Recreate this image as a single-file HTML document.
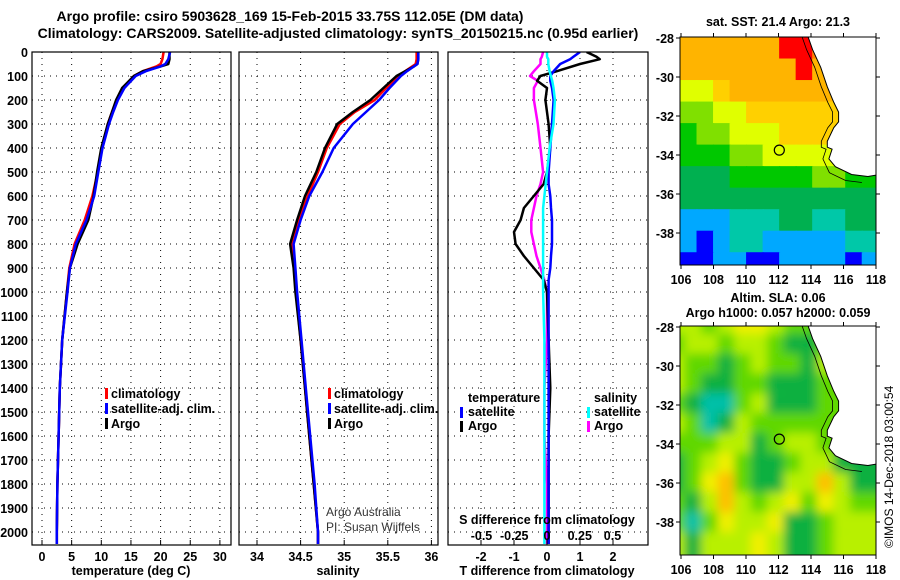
<!DOCTYPE html>
<html><head><meta charset="utf-8"><style>
html,body{margin:0;padding:0;background:#fff;width:900px;height:580px;overflow:hidden}
svg{display:block;font-family:"Liberation Sans",sans-serif}
.t{font-weight:bold;font-size:14px}
.k{font-weight:bold;font-size:12.5px}
</style></head><body>
<svg id="s" width="900" height="580" viewBox="0 0 900 580" xmlns="http://www.w3.org/2000/svg">
<defs>
<clipPath id="c1"><rect x="32" y="52" width="199" height="493"/></clipPath>
<clipPath id="c2"><rect x="239" y="52" width="199" height="493"/></clipPath>
<clipPath id="c3"><rect x="448" y="52" width="200" height="493"/></clipPath>
<clipPath id="m1"><rect x="680" y="37" width="196" height="228"/></clipPath>
<clipPath id="m2"><rect x="680" y="326" width="196" height="229"/></clipPath>
<filter id="bl" x="-10%" y="-10%" width="120%" height="120%"><feGaussianBlur stdDeviation="5"/></filter>
</defs>
<text class="t" x="290" y="21" text-anchor="middle">Argo profile: csiro 5903628_169 15-Feb-2015 33.75S 112.05E (DM data)</text>
<text class="t" x="338" y="38" text-anchor="middle">Climatology: CARS2009. Satellite-adjusted climatology: synTS_20150215.nc (0.95d earlier)</text>
<g id="grid"></g>
<g id="marks"></g>
<g id="maps"></g>
<g id="axes"></g>
<g class="k">
<rect x="105" y="388" width="3" height="11" fill="#f00"/><text x="111" y="398">climatology</text>
<rect x="105" y="403" width="3" height="11" fill="#00f"/><text x="111" y="413">satellite-adj. clim.</text>
<rect x="105" y="418" width="3" height="11" fill="#000"/><text x="111" y="428">Argo</text>
</g>
<g class="k">
<rect x="328" y="388" width="3" height="11" fill="#f00"/><text x="334" y="398">climatology</text>
<rect x="328" y="403" width="3" height="11" fill="#00f"/><text x="334" y="413">satellite-adj. clim.</text>
<rect x="328" y="418" width="3" height="11" fill="#000"/><text x="334" y="428">Argo</text>
</g>
<g class="k">
<text x="468" y="402">temperature</text>
<rect x="460" y="407" width="3" height="11" fill="#00f"/><text x="468" y="416">satellite</text>
<rect x="460" y="421" width="3" height="11" fill="#000"/><text x="468" y="430">Argo</text>
<text x="594" y="402">salinity</text>
<rect x="587" y="407" width="3" height="11" fill="#0ff"/><text x="594" y="416">satellite</text>
<rect x="587" y="421" width="3" height="11" fill="#f0f"/><text x="594" y="430">Argo</text>
</g>
<text x="326" y="516" font-size="12" fill="#333">Argo Australia</text>
<text x="326" y="531" font-size="12" fill="#333">PI: Susan Wijffels</text>
<text class="k" x="547" y="524" text-anchor="middle">S difference from climatology</text>
<text class="k" x="131" y="575" text-anchor="middle">temperature (deg C)</text>
<text class="k" x="338" y="575" text-anchor="middle">salinity</text>
<text class="k" x="547" y="575" text-anchor="middle">T difference from climatology</text>
<text class="k" x="778" y="26" text-anchor="middle">sat. SST: 21.4 Argo: 21.3</text>
<text class="k" x="778" y="302" text-anchor="middle">Altim. SLA: 0.06</text>
<text class="k" x="778" y="317" text-anchor="middle">Argo h1000: 0.057 h2000: 0.059</text>
<text font-size="12" transform="translate(893,548) rotate(-90)">©IMOS 14-Dec-2018 03:00:54</text>
</svg>
<script>
const depths=[0,30,50,60,80,100,150,200,250,300,400,500,600,700,800,900,1000,1200,1400,1600,1800,2000,2050];
const tempArgo=[21.5,21.5,21.3,20,17,15.5,13.5,12.5,11.8,11.1,10,9.3,8.7,7.8,6,4.7,4.2,3.4,3.0,2.8,2.6,2.5,2.5];
const tempClim=[20.5,20.3,20,19.3,17,15.5,13.7,12.6,11.8,11.1,10.1,9.4,8.5,7.2,5.5,4.6,4.2,3.4,3.0,2.8,2.6,2.5,2.5];
const tempSat=[21.6,21.3,20.8,20,17.5,15.8,13.9,12.8,12,11.3,10.2,9.5,8.8,7.5,5.7,4.7,4.3,3.4,3.0,2.8,2.6,2.5,2.5];
const salArgo=[35.85,35.85,35.84,35.8,35.7,35.6,35.45,35.3,35.1,34.92,34.78,34.68,34.55,34.46,34.38,34.42,34.44,34.5,34.55,34.6,34.65,34.7,34.7];
const salClim=[35.83,35.83,35.82,35.78,35.7,35.62,35.48,35.35,35.12,34.95,34.8,34.7,34.58,34.48,34.4,34.43,34.45,34.5,34.55,34.6,34.65,34.7,34.7];
const salSat=[35.85,35.85,35.84,35.8,35.72,35.65,35.52,35.4,35.25,35.1,34.88,34.75,34.6,34.5,34.42,34.44,34.46,34.51,34.56,34.61,34.66,34.7,34.7];
const diffDepths=[0,20,30,50,80,100,120,150,200,300,400,500,550,600,650,700,750,800,850,900,950,1000,1200,1400,1600,1800,2000,2050];
const tDiffArgo=[1.2,1.5,1.6,1.0,0.3,-0.2,-0.3,0.0,-0.05,0.05,0.1,0.0,-0.1,-0.4,-0.7,-0.8,-1.0,-0.95,-0.7,-0.4,-0.1,0.0,0.05,0.1,0.05,0.05,0.05,0.05];
const tDiffSat=[1.0,0.8,0.7,0.4,0.2,0.1,0.1,0.15,0.2,0.15,0.1,0.05,0.05,0.1,0.12,0.15,0.15,0.15,0.12,0.1,0.05,0.05,0.05,0.05,0.05,0.05,0.05,0.05];
const sDiffArgo=[-0.03,-0.04,-0.05,-0.05,-0.1,-0.13,-0.07,-0.1,-0.1,-0.07,-0.05,-0.03,-0.05,-0.08,-0.1,-0.12,-0.12,-0.1,-0.08,-0.05,-0.02,0,0,-0.02,-0.02,0,0,0];
const sDiffSat=[0,0,0.01,0.01,0.02,0.03,0.04,0.05,0.06,0.05,0.02,0,-0.01,-0.02,-0.03,-0.03,-0.03,-0.03,-0.03,-0.03,-0.03,-0.03,-0.02,-0.02,-0.02,-0.02,-0.02,-0.02];
const depthTicks=[0,100,200,300,400,500,600,700,800,900,1000,1100,1200,1300,1400,1500,1600,1700,1800,1900,2000];
const tempTicks=[0,5,10,15,20,25,30];
const salTicks=[34,34.5,35,35.5,36];
const tDiffTicks=[-2,-1,0,1,2];
const sDiffTicks=[-0.5,-0.25,0,0.25,0.5];
const sDiffLabels=["-0.5","-0.25","0","0.25","0.5"];
const lonTicks=[106,108,110,112,114,116,118];
const latTicks=[-28,-30,-32,-34,-36,-38];
const sstGrid=[
[8,8,8,8,8,8,10,10,9,8,8,8],
[8,8,8,8,8,8,8,10,8,8,8,8],
[6,6,7,8,8,8,8,8,8,8,8,8],
[5,5,6,6,7,7,7,7,7,7,7,7],
[4,5,5,6,6,6,7,7,7,7,7,7],
[4,4,4,5,5,6,6,6,6,6,6,6],
[3,3,3,4,4,4,4,4,5,5,4,4],
[3,3,3,3,3,3,3,3,3,3,3,3],
[1,1,1,2,2,2,3,3,2,2,3,3],
[1,0,1,2,2,1,1,1,1,1,2,2],
[0,0,1,1,0,0,1,1,1,1,0,1]];
const slaGrid=[
[1,1,0,1,2,2,1,0,0,-1,0,0],
[0,1,1,0,1,1,0,-1,-1,0,0,0],
[1,0,0,-1,0,1,0,0,-1,1,0,0],
[1,0,-1,-1,0,0,-1,-1,-1,0,0,0],
[0,-1,-2,-2,0,1,-1,-1,-1,0,0,0],
[1,0,-2,-1,1,0,0,0,0,0,0,0],
[0,0,0,1,1,-1,0,1,1,0,0,0],
[-1,0,1,2,0,-1,-1,0,1,1,-1,-1],
[-1,0,2,3,0,-1,-1,1,1,3,1,-1],
[0,-1,1,3,1,0,1,2,0,2,1,0],
[0,-2,0,2,1,1,2,-1,-1,0,1,1],
[1,-1,1,1,1,2,1,-1,-1,0,1,1]];
const coastLon=[113.8,114.1,114.6,115.0,115.4,115.7,115.7,115.4,115.0,115.0,115.3,115.1,115.5,116.5,117.5,118.2,118.2];
const coastLat=[-27.9,-28.6,-29.5,-30.5,-31.3,-31.8,-32.3,-32.6,-33.3,-33.6,-33.7,-34.2,-34.6,-35.0,-35.1,-35.0,-27.9];
const argoLon=112.05, argoLat=-33.75;

const NS="http://www.w3.org/2000/svg";
function mk(tag,attrs,parent){const e=document.createElementNS(NS,tag);for(const k in attrs)e.setAttribute(k,attrs[k]);parent.appendChild(e);return e;}
const gG=document.getElementById('grid'),gM=document.getElementById('marks'),gA=document.getElementById('axes'),gP=document.getElementById('maps');
const yD=d=>52+d*0.24;
const xT=v=>42+v*5.93;
const xS=v=>257+(v-34)*87.2;
const xTD=v=>547+v*33;
const xSD=v=>547+v*131;
const panels=[{x0:32,x1:231,ticks:tempTicks,f:xT,name:'temperature'},
{x0:239,x1:438,ticks:salTicks,f:xS,name:'salinity'},
{x0:448,x1:648,ticks:tDiffTicks,f:xTD,name:'t-difference'}];
panels.forEach(p=>{
  depthTicks.forEach(d=>{
    const l=mk('line',{x1:p.x0,x2:p.x1,y1:yD(d),y2:yD(d),stroke:'#000','stroke-width':1,'stroke-dasharray':'1,5'},gG);
    
    
  });
  p.ticks.forEach(v=>{
    const x=p.f(v);
    const l=mk('line',{x1:x,x2:x,y1:52,y2:545,stroke:'#000','stroke-width':1,'stroke-dasharray':'1,5'},gG);
    
    
    const t=mk('text',{x:x,y:561,'text-anchor':'middle',class:'k'},gA);t.textContent=String(v);
    
    
    mk('line',{x1:x,x2:x,y1:545,y2:540,stroke:'#000'},gA);
  });
  const r=mk('rect',{x:p.x0,y:52,width:p.x1-p.x0,height:493,fill:'none',stroke:'#000','stroke-width':1.2},gA);
  
  
});
depthTicks.forEach(d=>{
  const t=mk('text',{x:28,y:yD(d)+5,'text-anchor':'end',class:'k'},gA);t.textContent=String(d);
  
  
});
sDiffTicks.forEach((v,i)=>{
  const t=mk('text',{x:xSD(v),y:540,'text-anchor':'middle',class:'k'},gA);t.textContent=sDiffLabels[i];
  
  
});
function line(xs,ds,fx,col,clip,name){
  const pts=xs.map((v,i)=>fx(v).toFixed(1)+','+yD(ds[i]).toFixed(1)).join(' ');
  const p=mk('polyline',{points:pts,fill:'none',stroke:col,'stroke-width':2.5,'clip-path':'url(#'+clip+')','stroke-linejoin':'round'},gM);
  
  
}
line(tempClim,depths,xT,'#f00','c1','temp-climatology-line');
line(tempArgo,depths,xT,'#000','c1','temp-argo-line');
line(tempSat,depths,xT,'#00f','c1','temp-satellite-line');
line(salClim,depths,xS,'#f00','c2','sal-climatology-line');
line(salArgo,depths,xS,'#000','c2','sal-argo-line');
line(salSat,depths,xS,'#00f','c2','sal-satellite-line');
line(sDiffArgo,diffDepths,xSD,'#f0f','c3','s-diff-argo-line');
line(tDiffArgo,diffDepths,xTD,'#000','c3','t-diff-argo-line');
line(tDiffSat,diffDepths,xTD,'#00f','c3','t-diff-satellite-line');
line(sDiffSat,diffDepths,xSD,'#0ff','c3','s-diff-satellite-line');

const sstCols=['#0000ff','#00a8ff','#00c8a8','#00b050','#00c800','#80e000','#e0ff00','#ffd000','#ffb400','#ff8000','#ff0000'];
const slaCols={'-2':'#00c0a8','-1':'#10b040','0':'#60d800','1':'#b8f000','2':'#f0f000','3':'#ffc000'};
function drawMap(top,bottom,clip,grid,colf,blur,name){
  const xL=v=>681+(v-106)*16.25, yL=v=>top+(-28-v)*19.5;
  const g=mk('g',{'clip-path':'url(#'+clip+')'},gP);
  
  
  const inner=mk('g',blur?{filter:'url(#bl)'}:{},g);
  const rows=grid.length,cols=grid[0].length;
  const latSpan=(bottom-top)/19.5+0.5;
  const cw=16.25*12.2/cols, ch=latSpan*19.5/rows;
  for(let r=0;r<rows;r++)for(let c=0;c<cols;c++){
    const x=680+c*cw-(blur?12:0), y=(top-1)+r*ch-(blur?12:0);
    const rc=mk('rect',{x:x,y:y,width:cw+(blur?24:1),height:ch+(blur?24:1),fill:colf(grid[r][c])},inner);
    
    
  }
  const pts=coastLon.map((v,i)=>xL(v).toFixed(1)+','+yL(coastLat[i]).toFixed(1)).join(' ');
  const land=mk('polygon',{points:pts,fill:'#fff',stroke:'#000','stroke-width':1},g);
  
  
  const iso=mk('polyline',{points:coastLon.slice(0,15).map((v,i)=>(xL(v)-6).toFixed(1)+','+(yL(coastLat[i])+(i>11?6:0)).toFixed(1)).join(' '),fill:'none',stroke:'#000','stroke-width':0.8},g);
  
  
  const ci=mk('circle',{cx:xL(argoLon),cy:yL(argoLat),r:5,fill:'none',stroke:'#000','stroke-width':1.2},g);
  
  
  const fr=mk('rect',{x:680,y:top-1,width:196,height:bottom-top+1,fill:'none',stroke:'#000','stroke-width':1},gA);
  
  
  lonTicks.forEach(v=>{
    const t=mk('text',{x:xL(v),y:bottom+19,'text-anchor':'middle',class:'k'},gA);t.textContent=String(v);
    
    
    mk('line',{x1:xL(v),x2:xL(v),y1:bottom,y2:bottom+4,stroke:'#000'},gA);
    mk('line',{x1:xL(v),x2:xL(v),y1:top-1,y2:top-5,stroke:'#000'},gA);
  });
  latTicks.forEach(v=>{
    const t=mk('text',{x:674,y:yL(v)+5,'text-anchor':'end',class:'k'},gA);t.textContent=String(v);
    
    
    mk('line',{x1:676,x2:680,y1:yL(v),y2:yL(v),stroke:'#000'},gA);
    mk('line',{x1:876,x2:880,y1:yL(v),y2:yL(v),stroke:'#000'},gA);
  });
}
drawMap(38,265,'m1',sstGrid,v=>sstCols[v],false,'sst-map');
drawMap(327,555,'m2',slaGrid,v=>slaCols[String(v)],true,'sla-map');
</script>
</body></html>
